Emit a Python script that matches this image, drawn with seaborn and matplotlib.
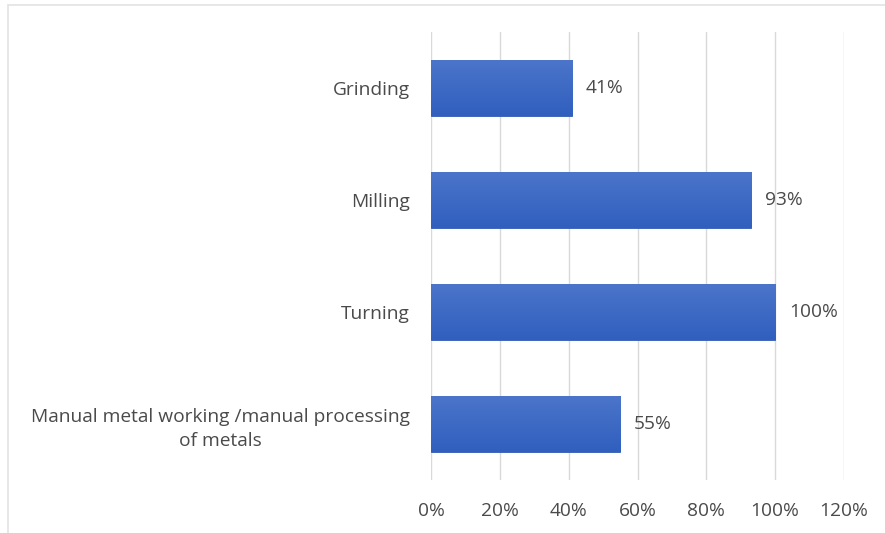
import matplotlib
matplotlib.use("Agg")
import matplotlib.pyplot as plt
import numpy as np
import pandas as pd
import seaborn as sns
from matplotlib.colors import LinearSegmentedColormap
from matplotlib.patches import Rectangle

categories = ["Grinding", "Milling", "Turning",
              "Manual metal working /manual processing\nof metals"]
shares = [41, 93, 100, 55]
tick_values = [0, 20, 40, 60, 80, 100, 120]
tick_labels = ["0%", "20%", "40%", "60%", "80%", "100%", "120%"]

df = pd.DataFrame({"category": categories, "share": shares})

sns.set_theme(style="white")
plt.rcParams["font.family"] = ["Open Sans", "DejaVu Sans"]
text_color = "#4a4a4a"
fsize = 13.8

fig = plt.figure(figsize=(8.85, 5.33), dpi=100)
ax = fig.add_axes([431 / 885, 1 - 480 / 533, (844 - 431) / 885, (480 - 32) / 533])

sns.barplot(data=df, x="share", y="category", orient="h", width=0.5,
            color="#3d69c4", ax=ax, zorder=2)

# vertical blue gradient inside each bar
grad = LinearSegmentedColormap.from_list("bar", ["#4c75ca", "#305fbe"])
gradient = np.linspace(0, 1, 256).reshape(-1, 1)
for patch in list(ax.patches):
    x0, y0 = patch.get_x(), patch.get_y()
    w, h = patch.get_width(), patch.get_height()
    im = ax.imshow(gradient, cmap=grad, aspect="auto", zorder=3,
                   extent=(x0, x0 + w, y0 + h, y0), origin="upper")
    im.set_clip_path(patch)
    patch.set_edgecolor("#2f5bb5")
    patch.set_linewidth(0.6)

for i, v in enumerate(shares):
    ax.text(v + 4.0, i, f"{v}%", va="center", ha="left",
            fontsize=fsize, color=text_color)

ax.set_xlim(0, 120)
ax.set_ylim(3.5, -0.5)
ax.set_xticks(tick_values)
ax.set_xticklabels(tick_labels)
ax.xaxis.grid(True, color="#d9d9d9", linewidth=1)
ax.set_axisbelow(True)
for s in ax.spines.values():
    s.set_visible(False)
ax.set_xlabel("")
ax.set_ylabel("")
ax.tick_params(axis="x", colors=text_color, labelsize=fsize, length=0, pad=16)
ax.tick_params(axis="y", colors=text_color, labelsize=fsize, length=0, pad=15)
for lab in ax.get_yticklabels():
    lab.set_multialignment("center")
    lab.set_linespacing(1.45)

# light frame around the chart area
fig.add_artist(Rectangle((8 / 885, -0.05), 2, 1 - 5 / 533 + 0.05,
                         transform=fig.transFigure, fill=False,
                         edgecolor="#e3e3e3", linewidth=1.2))

fig.savefig("out.png", dpi=100)
